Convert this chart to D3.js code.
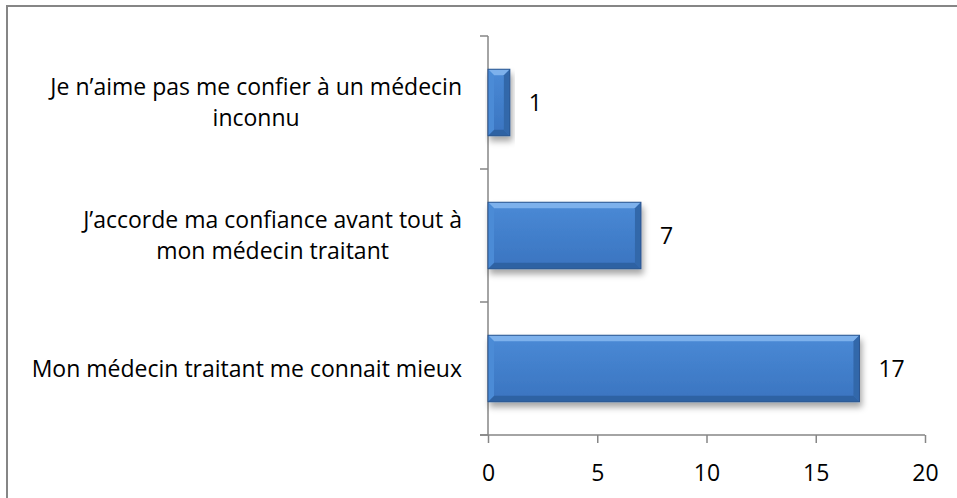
<!DOCTYPE html>
<html>
<head>
<meta charset="utf-8">
<script src="https://cdn.jsdelivr.net/npm/d3@7/dist/d3.min.js"></script>
<style>
	body { margin: 0; background: #fff; }
	text { font-family: "Open Sans", sans-serif; fill: #000; }
	.axis path, .axis line { stroke: #868686; stroke-width: 1.5; }
</style>
</head>
<body>
<svg width="957" height="498"></svg>
<script>
var categories = [
	["Je n’aime pas me confier à un médecin", "inconnu"],
	["J’accorde ma confiance avant tout à", "mon médecin traitant"],
	["Mon médecin traitant me connait mieux"]
]
var values = [1, 7, 17]
var xTicks = [0, 5, 10, 15, 20]

var fontSize = 23
var svg = d3.select("svg")

// cadre
svg.append("rect")
	.attr("x", 7).attr("y", 6)
	.attr("width", 1000).attr("height", 600)
	.attr("fill", "none")
	.attr("stroke", "#868686")
	.attr("stroke-width", 2)

var defs = svg.append("defs")
var grad = defs.append("linearGradient")
	.attr("id", "barFill")
	.attr("x1", 0).attr("y1", 0).attr("x2", 0).attr("y2", 1)
grad.append("stop").attr("offset", "0%").attr("stop-color", "#4a8ad6")
grad.append("stop").attr("offset", "100%").attr("stop-color", "#3a74c0")

var shadow = defs.append("filter")
	.attr("id", "shadow")
	.attr("x", "-10%").attr("y", "-10%").attr("width", "130%").attr("height", "140%")
shadow.append("feDropShadow")
	.attr("dx", 2).attr("dy", 5)
	.attr("stdDeviation", 3)
	.attr("flood-color", "#000")
	.attr("flood-opacity", 0.35)

var x = d3.scaleLinear().domain([0, 20]).range([488, 925])
var y = d3.scaleBand().domain(d3.range(categories.length)).range([36, 435]).paddingInner(0.5).paddingOuter(0.25)
var yAxisScale = d3.scaleBand().domain(d3.range(categories.length)).range([36, 435])

// axe x
var xAxis = svg.append("g")
	.attr("class", "axis")
	.attr("transform", "translate(0,435)")
	.call(d3.axisBottom(x).tickValues(xTicks).tickSize(8).tickSizeOuter(0))
xAxis.select(".domain").attr("d", "M480,0H925")
xAxis.selectAll("text")
	.attr("y", 38)
	.attr("dy", "0.35em")
	.style("font-size", fontSize + "px")
	.style("font-family", "'Open Sans', sans-serif")

// axe y (graduations aux limites des catégories)
var yAxis = svg.append("g").attr("class", "axis")
yAxis.append("line")
	.attr("x1", 488).attr("x2", 488)
	.attr("y1", 36).attr("y2", 435)
var bounds = categories.map(function(d, i){ return yAxisScale(i) }).concat([435])
yAxis.selectAll(".tick")
		.data(bounds)
	.enter().append("line")
		.attr("x1", 480).attr("x2", 488)
		.attr("y1", function(d){ return d })
		.attr("y2", function(d){ return d })

// barres
var bars = svg.selectAll(".bar")
		.data(values)
	.enter().append("g")
		.attr("class", "bar")
		.attr("filter", "url(#shadow)")

var b = 6
bars.each(function(d, i){
	var g = d3.select(this)
	var x0 = x(0), x1 = x(d), y0 = y(i), y1 = y(i) + y.bandwidth()
	g.append("rect")
		.attr("x", x0).attr("y", y0)
		.attr("width", x1 - x0).attr("height", y1 - y0)
		.attr("fill", "url(#barFill)")
	var bw = Math.min(b, (x1 - x0) / 2)
	// haut
	g.append("path")
		.attr("d", "M" + x0 + "," + y0 + "L" + x1 + "," + y0 + "L" + (x1 - bw) + "," + (y0 + b) + "L" + (x0 + bw) + "," + (y0 + b) + "Z")
		.attr("fill", "#7db1ec")
	// bas
	g.append("path")
		.attr("d", "M" + x0 + "," + y1 + "L" + x1 + "," + y1 + "L" + (x1 - bw) + "," + (y1 - b) + "L" + (x0 + bw) + "," + (y1 - b) + "Z")
		.attr("fill", "#2f62a3")
	// gauche
	g.append("path")
		.attr("d", "M" + x0 + "," + y0 + "L" + (x0 + bw) + "," + (y0 + b) + "L" + (x0 + bw) + "," + (y1 - b) + "L" + x0 + "," + y1 + "Z")
		.attr("fill", "#4b8bd6")
	// droite
	g.append("path")
		.attr("d", "M" + x1 + "," + y0 + "L" + (x1 - bw) + "," + (y0 + b) + "L" + (x1 - bw) + "," + (y1 - b) + "L" + x1 + "," + y1 + "Z")
		.attr("fill", "#3367aa")
	g.append("rect")
		.attr("x", x0).attr("y", y0)
		.attr("width", x1 - x0).attr("height", y1 - y0)
		.attr("fill", "none")
		.attr("stroke", "#2a558f")
		.attr("stroke-width", 1)
})

// étiquettes de valeurs
svg.selectAll(".value")
		.data(values)
	.enter().append("text")
		.attr("class", "value")
		.attr("x", function(d){ return x(d) + 19 })
		.attr("y", function(d, i){ return y(i) + y.bandwidth() / 2 })
		.attr("dy", "0.35em")
		.style("font-size", fontSize + "px")
		.text(function(d){ return d })

// étiquettes de catégories : bloc aligné à droite, lignes centrées
var lineH = 31
categories.forEach(function(lines, i){
	var t = svg.append("text")
		.attr("class", "cat")
		.style("font-size", fontSize + "px")
		.attr("text-anchor", "middle")
	var cy = y(i) + y.bandwidth() / 2
	lines.forEach(function(l, j){
		t.append("tspan")
			.attr("y", cy + (j - (lines.length - 1) / 2) * lineH)
			.attr("dy", "0.35em")
			.text(l)
	})
	var w = d3.max(t.selectAll("tspan").nodes(), function(n){ return n.getComputedTextLength() })
	t.selectAll("tspan").attr("x", 462 - w / 2)
})
</script>
</body>
</html>
